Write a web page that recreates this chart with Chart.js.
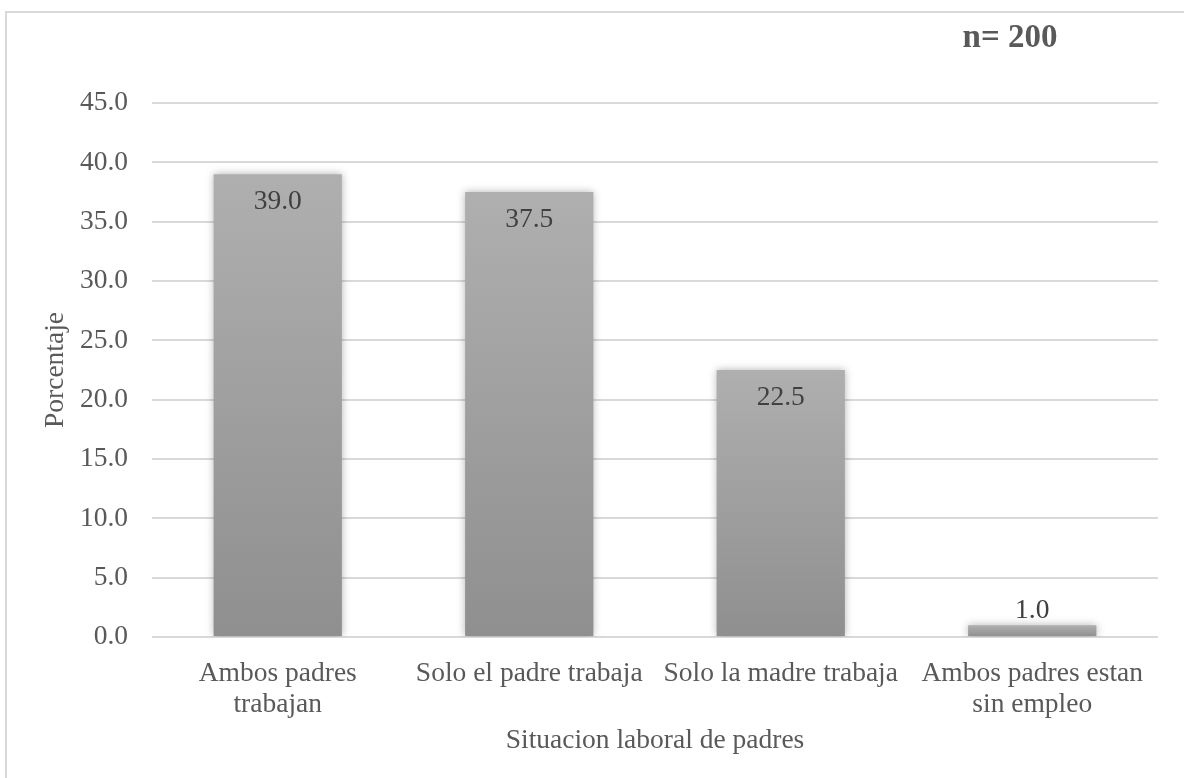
<!DOCTYPE html>
<html>
<head>
<meta charset="utf-8">
<script src="https://cdn.jsdelivr.net/npm/chart.js@4.4.1/dist/chart.umd.min.js"></script>
<style>
  html, body { margin: 0; padding: 0; background: #fff; overflow: hidden; }
  #marco { position: absolute; left: 5px; top: 11px; width: 1300px; height: 900px; border: 2px solid #d9d9d9; }
  #caja { position: absolute; left: 0; top: 0; width: 1184px; height: 778px; }
</style>
</head>
<body>
<div id="marco"></div>
<div id="caja"><canvas id="grafico" width="1184" height="778"></canvas></div>
<script>
// Datos del grafico
const categorias = [
  ["Ambos padres", "trabajan"],
  "Solo el padre trabaja",
  "Solo la madre trabaja",
  ["Ambos padres estan", "sin empleo"]
];
const porcentajes = [39.0, 37.5, 22.5, 1.0];
const ticksY = [0, 5, 10, 15, 20, 25, 30, 35, 40, 45];
const tituloY = "Porcentaje";
const tituloX = "Situacion laboral de padres";
const muestra = "n= 200";

const fuente = "'Liberation Serif', 'Times New Roman', serif";
const grisTexto = "#595959";

// Degradado por barra (claro arriba, oscuro abajo)
function degradadoBarra(context) {
  const chart = context.chart;
  const y = chart.scales.y;
  if (!y || context.parsed === undefined) return "#9e9e9e";
  const arriba = y.getPixelForValue(context.parsed.y);
  const abajo = y.getPixelForValue(0);
  if (!isFinite(arriba) || !isFinite(abajo) || arriba === abajo) return "#9e9e9e";
  const g = chart.ctx.createLinearGradient(0, arriba, 0, abajo);
  g.addColorStop(0, "#afafaf");
  g.addColorStop(1, "#8f8f8f");
  return g;
}

// Sombra suave alrededor de las barras
const sombraBarras = {
  id: "sombraBarras",
  beforeDatasetsDraw(chart) {
    const ctx = chart.ctx;
    ctx.save();
    ctx.shadowColor = "rgba(0,0,0,0.3)";
    ctx.shadowBlur = 8;
    ctx.shadowOffsetX = 0;
    ctx.shadowOffsetY = 0;
  },
  afterDatasetsDraw(chart) {
    chart.ctx.restore();
  }
};

// Etiquetas de valores y texto "n= 200"
const etiquetas = {
  id: "etiquetas",
  afterDatasetsDraw(chart) {
    const ctx = chart.ctx;
    const meta = chart.getDatasetMeta(0);
    ctx.save();
    ctx.font = "27.5px " + fuente;
    ctx.fillStyle = "#404040";
    ctx.textAlign = "center";
    ctx.textBaseline = "middle";
    meta.data.forEach((barra, i) => {
      const alto = barra.base - barra.y;
      const y = alto > 45 ? barra.y + 28 : barra.y - 14;
      ctx.fillText(porcentajes[i].toFixed(1), barra.x, y);
    });
    ctx.font = "bold 33px " + fuente;
    ctx.fillStyle = grisTexto;
    ctx.fillText(muestra, 1010, 38);
    ctx.restore();
  }
};

const ctx = document.getElementById("grafico").getContext("2d");
new Chart(ctx, {
  type: "bar",
  data: {
    labels: categorias,
    datasets: [{
      data: porcentajes,
      backgroundColor: degradadoBarra,
      borderWidth: 0,
      categoryPercentage: 1,
      barPercentage: 0.51
    }]
  },
  options: {
    responsive: false,
    animation: false,
    events: [],
    layout: { padding: { left: 39.5, right: 26, top: 103, bottom: 20.5 } },
    plugins: {
      legend: { display: false },
      tooltip: { enabled: false }
    },
    scales: {
      x: {
        grid: { display: false },
        border: { display: false },
        ticks: {
          color: grisTexto,
          padding: 14,
          maxRotation: 0,
          font: { family: fuente, size: 27.5, lineHeight: 1.1 }
        },
        title: {
          display: true,
          text: tituloX,
          color: grisTexto,
          padding: { top: 0, bottom: 0 },
          font: { family: fuente, size: 27.5, lineHeight: 1.2 }
        },
        afterFit(scale) { scale.height = 120.5; }
      },
      y: {
        min: 0,
        max: 45,
        afterBuildTicks(scale) { scale.ticks = ticksY.map(v => ({ value: v })); },
        grid: { color: "#d9d9d9", lineWidth: 2, drawTicks: false },
        border: { display: false },
        ticks: {
          color: grisTexto,
          padding: 24,
          font: { family: fuente, size: 27.5 },
          callback: (v) => Number(v).toFixed(1)
        },
        title: {
          display: true,
          text: tituloY,
          color: grisTexto,
          padding: { top: 0, bottom: 0 },
          font: { family: fuente, size: 27.5, lineHeight: 1.2 }
        },
        afterFit(scale) { scale.width = 112.5; }
      }
    }
  },
  plugins: [sombraBarras, etiquetas]
});
</script>
</body>
</html>
